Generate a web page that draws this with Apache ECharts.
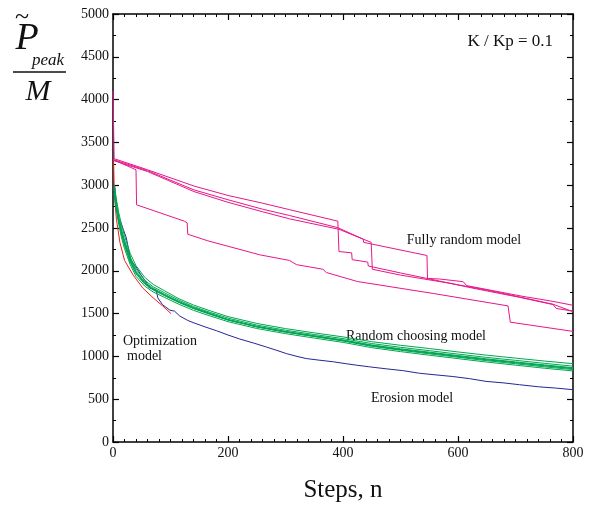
<!DOCTYPE html>
<html><head><meta charset="utf-8">
<script src="https://cdn.jsdelivr.net/npm/echarts@6/dist/echarts.min.js"></script>
<style>html,body{margin:0;padding:0;background:#fff}#c{width:590px;height:508px}</style>
</head><body><div id="c"></div>
<script>
// ---- Data ----
var xTicks = [0, 200, 400, 600, 800];
var yTicks = [0, 500, 1000, 1500, 2000, 2500, 3000, 3500, 4000, 4500, 5000];

// Fully random model (4 runs)
var fr1X = [0,2,60,141,200,260,307,391,393,415,416,443,444,500,568,626,707,765,771,800];
var fr1Y = [4100,3310,3180,2990,2880,2790,2714,2580,2225,2210,2130,2102,2056,1975,1880,1797,1690,1606,1560,1529];
var fr2X = [0,60,141,200,260,307,391,435,436,546,547,568,609,615,713,765,800];
var fr2Y = [3300,3170,2945,2830,2720,2646,2504,2370,2332,2179,1911,1904,1873,1827,1701,1643,1597];
var fr3X = [0,60,141,200,260,307,393,449,451,500,586,650,700,765,800];
var fr3Y = [3290,3160,2925,2800,2690,2607,2485,2332,2018,1950,1854,1775,1705,1610,1522];
var fr4X = [0,40,41,124,129,130,165,255,307,319,365,371,425,557,687,691,800];
var fr4Y = [3300,3180,2771,2580,2560,2427,2350,2187,2121,2072,2018,1980,1875,1735,1590,1400,1292];

// Random choosing model (7 runs, common steps)
var rcX = [2,5,10,15,20,30,40,55,70,90,115,140,170,200,250,300,350,400,450,500,550,600,650,700,750,800];
var rc1 = [3000,2870,2680,2530,2410,2200,2060,1925,1840,1765,1672,1600,1530,1465,1385,1325,1275,1228,1172,1130,1092,1052,1014,980,946,915];
var rc2 = [2950,2790,2630,2480,2360,2160,2020,1890,1812,1742,1655,1582,1512,1447,1366,1306,1256,1208,1150,1106,1067,1027,988,954,919,886];
var rc3 = [2900,2760,2590,2440,2320,2120,1985,1860,1785,1718,1637,1567,1497,1432,1352,1292,1242,1192,1134,1089,1050,1010,971,936,901,868];
var rc4 = [2950,2800,2570,2420,2300,2100,1965,1845,1775,1708,1628,1558,1489,1424,1344,1284,1234,1184,1124,1079,1039,999,960,925,890,856];
var rc5 = [3000,2820,2610,2460,2340,2140,1995,1870,1795,1724,1640,1570,1500,1428,1346,1284,1232,1180,1118,1072,1030,990,950,914,878,846];
var rc6 = [2900,2730,2540,2380,2260,2070,1935,1822,1752,1688,1608,1538,1470,1406,1326,1266,1214,1164,1102,1056,1014,974,934,898,862,830];
var rc7 = [2980,2790,2580,2430,2310,2110,1975,1852,1780,1712,1632,1562,1492,1426,1348,1288,1238,1188,1128,1082,1042,1002,963,928,893,860];

// Erosion model
var erX = [3,6,7,10,14,18,23,27,31,40,49,57,63,64,75,78,86,99,107,116,130,139,160,180,200,220,245,267,285,302,320,336,360,383,405,423,425,446,475,504,533,560,591,620,649,680,707,740,770,800];
var erY = [3000,3000,2700,2600,2561,2480,2389,2250,2122,2045,1950,1873,1800,1778,1778,1683,1605,1540,1529,1472,1420,1396,1345,1300,1250,1204,1155,1109,1070,1032,1000,975,955,937,915,898,880,878,855,834,803,785,765,740,708,690,669,645,630,611];

// Optimization model
var opX = [1,2,4,6,12,20,35,52,70,87,101];
var opY = [3300,3000,2750,2600,2332,2122,1950,1797,1683,1586,1499];

function zip(xs, ys){ var o=[]; for(var i=0;i<xs.length;i++) o.push([xs[i], ys[i]]); return o; }

var MAG = '#e8168a', GRN = '#00a651', BLU = '#262696', RED = '#f02020';
var FONT = '"Liberation Serif","Times New Roman",serif';

function line(name, data, color, z){
  return {name:name, type:'line', data:data, showSymbol:false, symbol:'none',
    lineStyle:{color:color, width:1}, z:z||2, animation:false};
}
var series = [];
[rc1,rc2,rc3,rc4,rc5,rc6,rc7].forEach(function(a,i){ series.push(line('rc'+i, zip(rcX,a), GRN, 3)); });
series.push(line('erosion', zip(erX, erY), BLU, 2));
series.push(line('opt', zip(opX, opY), RED, 2));
series.push(line('fr1', zip(fr1X, fr1Y), MAG, 4));
series.push(line('fr2', zip(fr2X, fr2Y), MAG, 4));
series.push(line('fr3', zip(fr3X, fr3Y), MAG, 4));
series.push(line('fr4', zip(fr4X, fr4Y), MAG, 4));

var axisLineStyle = {show:true, onZero:false, lineStyle:{color:'#000', width:1.5}};
var tickStyle = {show:true, inside:true, length:6, lineStyle:{color:'#000', width:1.2}};
var chart = echarts.init(document.getElementById('c'), null, {renderer:'canvas'});
chart.setOption({
  animation:false,
  backgroundColor:'#fff',
  grid:{left:113, right:17, top:14, bottom:58, containLabel:false},
  xAxis:[
    {type:'value', min:0, max:800, interval:200, position:'bottom',
     axisLine:axisLineStyle, splitLine:{show:false}, axisTick:tickStyle,
     minorTick:{show:true, splitNumber:10, length:3, lineStyle:{color:'#000', width:1}},
     axisLabel:{show:true, margin:4, color:'#111', fontFamily:FONT, fontSize:14,
       formatter:function(v){ return xTicks.indexOf(v)>=0 ? String(v) : ''; }},
     name:'Steps, n', nameLocation:'middle', nameGap:36,
     nameTextStyle:{fontFamily:FONT, fontSize:25, color:'#111'}},
    {type:'value', min:0, max:800, interval:200, position:'top',
     axisLine:axisLineStyle, splitLine:{show:false}, axisLabel:{show:false}, axisTick:tickStyle,
     minorTick:{show:true, splitNumber:10, length:3, lineStyle:{color:'#000', width:1}}}
  ],
  yAxis:[
    {type:'value', min:0, max:5000, interval:500, position:'left',
     axisLine:axisLineStyle, splitLine:{show:false}, axisTick:tickStyle,
     minorTick:{show:true, splitNumber:2, length:3, lineStyle:{color:'#000', width:1}},
     axisLabel:{show:true, margin:4, color:'#111', fontFamily:FONT, fontSize:14,
       formatter:function(v){ return yTicks.indexOf(v)>=0 ? String(v) : ''; }}},
    {type:'value', min:0, max:5000, interval:500, position:'right',
     axisLine:axisLineStyle, splitLine:{show:false}, axisLabel:{show:false}, axisTick:tickStyle,
     minorTick:{show:true, splitNumber:2, length:3, lineStyle:{color:'#000', width:1}}}
  ],
  series: series,
  graphic:[
    {type:'text', x:553, y:42, style:{text:'K / Kp = 0.1', font:'17px '+FONT, fill:'#111', textAlign:'right', textVerticalAlign:'middle'}},
    {type:'text', x:464, y:240, style:{text:'Fully random model', font:'14px '+FONT, fill:'#111', textAlign:'center', textVerticalAlign:'middle'}},
    {type:'text', x:416, y:336, style:{text:'Random choosing model', font:'14px '+FONT, fill:'#111', textAlign:'center', textVerticalAlign:'middle'}},
    {type:'text', x:123, y:341, style:{text:'Optimization', font:'14px '+FONT, fill:'#111', textAlign:'left', textVerticalAlign:'middle'}},
    {type:'text', x:127, y:356, style:{text:'model', font:'14px '+FONT, fill:'#111', textAlign:'left', textVerticalAlign:'middle'}},
    {type:'text', x:412, y:398, style:{text:'Erosion model', font:'14px '+FONT, fill:'#111', textAlign:'center', textVerticalAlign:'middle'}},
    // y axis title: P~_peak / M
    {type:'text', x:27, y:39, style:{text:'P', font:'italic 38px '+FONT, fill:'#111', textAlign:'center', textVerticalAlign:'middle'}},
    {type:'text', x:22, y:17, style:{text:'~', font:'26px '+FONT, fill:'#111', textAlign:'center', textVerticalAlign:'middle'}},
    {type:'text', x:32, y:61, style:{text:'peak', font:'italic 17px '+FONT, fill:'#111', textAlign:'left', textVerticalAlign:'middle'}},
    {type:'line', shape:{x1:13, y1:72, x2:66, y2:72}, style:{stroke:'#111', lineWidth:1.3}},
    {type:'text', x:38, y:92, style:{text:'M', font:'italic 30px '+FONT, fill:'#111', textAlign:'center', textVerticalAlign:'middle'}}
  ]
});
</script></body></html>
